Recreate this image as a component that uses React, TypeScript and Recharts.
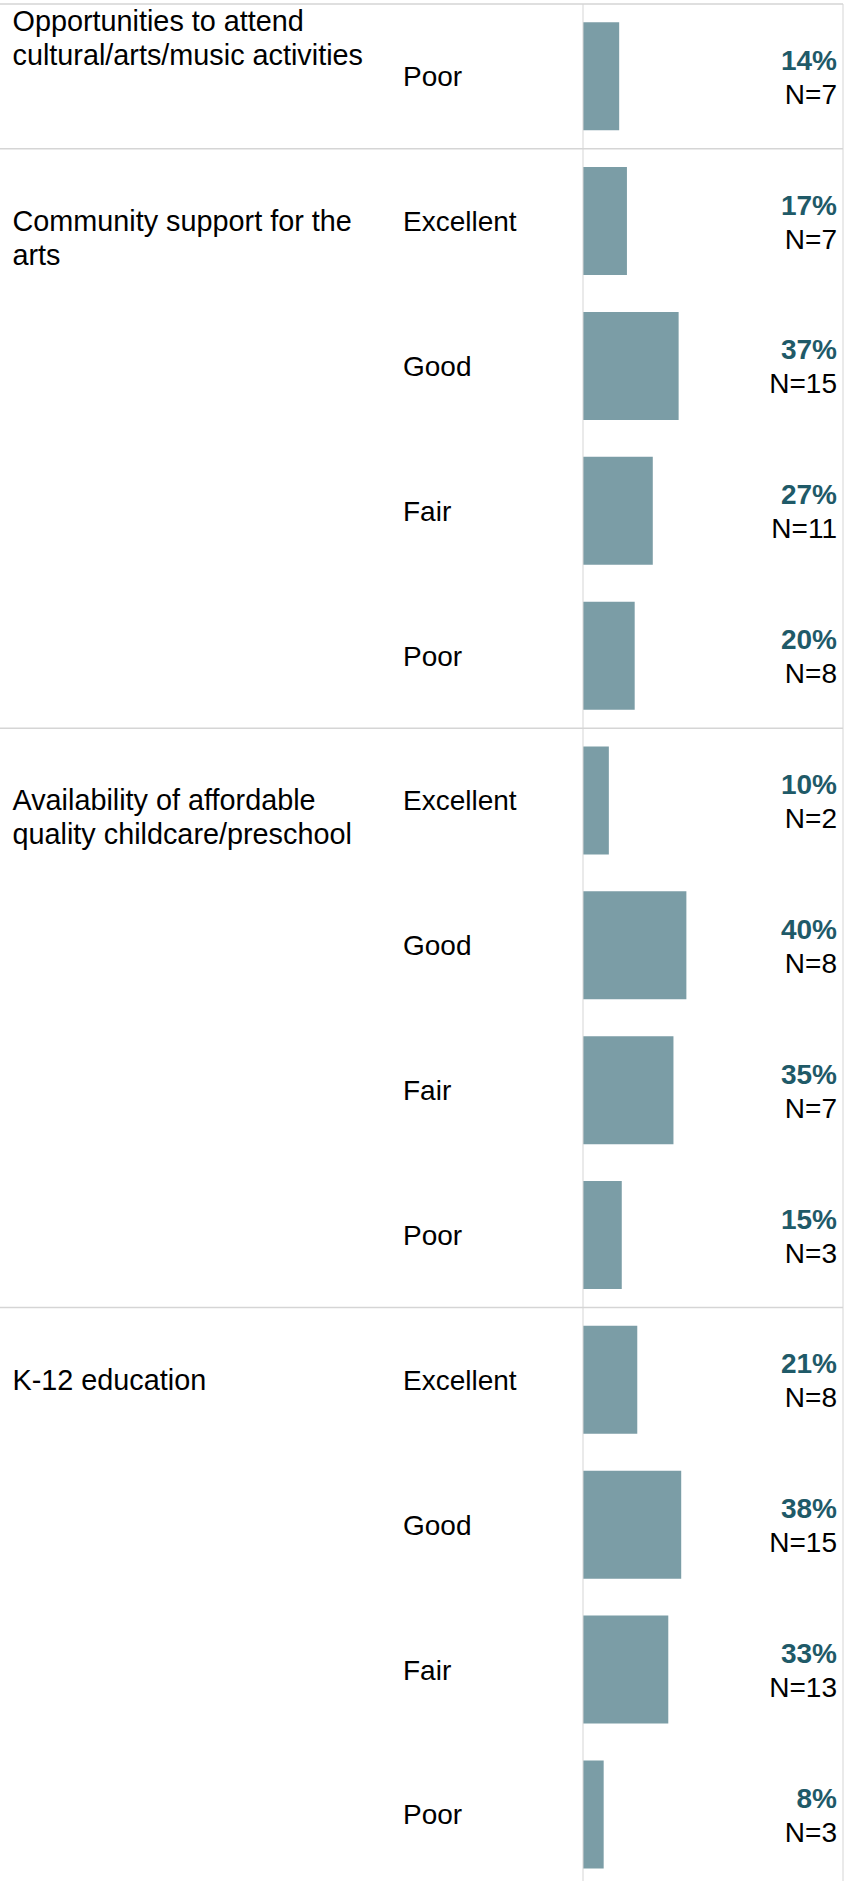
import React from 'react'
import { BarChart, Bar, XAxis, YAxis, ReferenceLine, LabelList } from 'recharts'

// survey rating table, one group per question
const groupLabels: string[][] = [
    ['Opportunities to attend', 'cultural/arts/music activities'],
    ['Community support for the', 'arts'],
    ['Availability of affordable', 'quality childcare/preschool'],
    ['K-12 education'],
]
const groupRatings: string[][] = [
    ['Poor'],
    ['Excellent', 'Good', 'Fair', 'Poor'],
    ['Excellent', 'Good', 'Fair', 'Poor'],
    ['Excellent', 'Good', 'Fair', 'Poor'],
]
const groupPercents: number[][] = [
    [14],
    [17, 37, 27, 20],
    [10, 40, 35, 15],
    [21, 38, 33, 8],
]
const groupCounts: number[][] = [
    [7],
    [7, 15, 11, 8],
    [2, 8, 7, 3],
    [8, 15, 13, 3],
]

interface Row {
    key: string
    group: number
    rating: string
    first: boolean
    pct: number
    n: number
}

const rows: Row[] = groupRatings.flatMap((ratings, g) =>
    ratings.map((rating, i) => ({
        key: `${g}|${rating}`,
        group: g,
        rating,
        first: i === 0,
        pct: groupPercents[g][i],
        n: groupCounts[g][i],
    }))
)

const WIDTH = 854
const HEIGHT = 1887
const TOP = 4
const RIGHT_EDGE = 843
const AXIS_W = 583
const ROW_H = (HEIGHT - TOP) / rows.length

const FONT = '"Liberation Sans", Arial, Helvetica, sans-serif'
const BAR = '#7b9da6'
const PCT = '#1f5a68'
const LINE = '#d5d5d5'
const TEXT = '#000'

function RowTick(props: any) {
    const { y, payload } = props
    const row = rows.find(r => r.key === payload.value)
    if (!row) return null
    const top = y - ROW_H / 2
    // the first group is cut off at the top, so its label sits at the top edge
    const labelY = row.group === 0 ? top + 26.5 : y + 9.8
    return (
        <g>
            {row.first && (
                <line x1={0} x2={RIGHT_EDGE} y1={top} y2={top} stroke={LINE} strokeWidth={1.5} />
            )}
            {row.first &&
                groupLabels[row.group].map((line, i) => (
                    <text key={i} x={12.5} y={labelY + i * 34} fontSize={28.8} fontFamily={FONT} fill={TEXT}>
                        {line}
                    </text>
                ))}
            <text x={403} y={y + 9.8} fontSize={28} fontFamily={FONT} fill={TEXT}>
                {row.rating}
            </text>
        </g>
    )
}

function PctLabel(props: any) {
    const vb = props.viewBox ?? props
    const cy = vb.y + vb.height / 2
    return (
        <text x={837} y={cy - 6.5} textAnchor="end" fontSize={28} fontWeight={700} fontFamily={FONT} fill={PCT}>
            {props.value}%
        </text>
    )
}

function CountLabel(props: any) {
    const vb = props.viewBox ?? props
    const cy = vb.y + vb.height / 2
    return (
        <text x={837} y={cy + 27.5} textAnchor="end" fontSize={28} fontFamily={FONT} fill={TEXT}>
            N={props.value}
        </text>
    )
}

export default function App() {
    return (
        <div
            style={{
                position: 'absolute',
                left: 0,
                top: 0,
                width: WIDTH,
                height: 1881,
                overflow: 'hidden',
                background: '#fff',
            }}
        >
            <BarChart
                width={WIDTH}
                height={HEIGHT}
                data={rows}
                layout="vertical"
                margin={{ top: TOP, right: WIDTH - RIGHT_EDGE, bottom: 0, left: 0 }}
                barCategoryGap="12.6%"
            >
                <XAxis type="number" domain={[0, 100.6]} hide />
                <YAxis
                    type="category"
                    dataKey="key"
                    width={AXIS_W}
                    axisLine={{ stroke: LINE }}
                    tickLine={false}
                    interval={0}
                    tick={<RowTick />}
                />
                <ReferenceLine x={100.6} stroke={LINE} ifOverflow="visible" />
                <Bar dataKey="pct" fill={BAR} isAnimationActive={false}>
                    <LabelList dataKey="pct" content={<PctLabel />} />
                    <LabelList dataKey="n" content={<CountLabel />} />
                </Bar>
            </BarChart>
        </div>
    )
}
